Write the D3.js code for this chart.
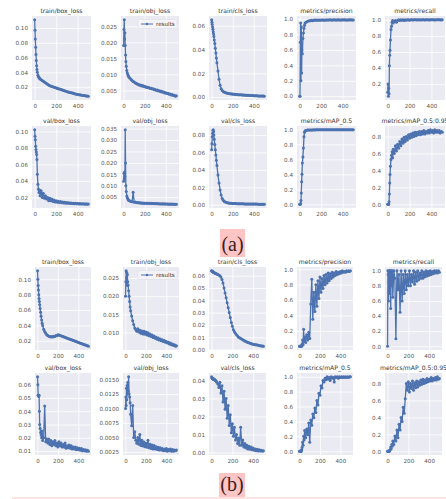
<!DOCTYPE html>
<html><head><meta charset="utf-8">
<script src="https://cdn.jsdelivr.net/npm/d3@7"></script>
<style>html,body{margin:0;padding:0;background:#fff;} svg{display:block;}</style>
</head><body>
<svg id="chart" width="446" height="499"></svg>
<script>
// ---------- DATA ----------
const epochs = [0,3,6,9,12,15,18,21,
  25,30,35,40,45,50,
  60,70,80,90,100,110,120,130,140,150,
  160,170,180,190,200,210,220,230,240,250,
  260,270,280,290,300,310,320,330,340,350,
  360,370,380,390,400,410,420,430,440,450,
  460,470,480,490,499];
const titles = ["train/box_loss","train/obj_loss","train/cls_loss","metrics/precision","metrics/recall",
  "val/box_loss","val/obj_loss","val/cls_loss","metrics/mAP_0.5","metrics/mAP_0.5:0.95"];
const xTickValues = [0, 200, 400];
const legendLabel = "results";
const figureLabels = ["(a)", "(b)"];

// (a)
const aTrainBox = [0.111,0.097,0.085,0.074,0.064,0.056,0.049,0.044,
  0.040,0.036,0.034,0.033,0.032,0.031,
  0.030,0.029,0.028,0.027,0.026,0.025,0.024,0.023,0.022,0.0215,
  0.021,0.0205,0.020,0.0195,0.019,0.0185,0.018,0.0175,0.017,0.0165,
  0.016,0.0155,0.015,0.0145,0.014,0.0136,0.0132,0.0128,0.0124,0.012,
  0.0116,0.0112,0.0108,0.0105,0.0102,0.0099,0.0096,0.0093,0.009,0.0088,
  0.0086,0.0084,0.0082,0.008,0.0078];
const aTrainObj = [0.019,0.024,0.027,0.021,0.023,0.019,0.016,0.014,
  0.0125,0.0112,0.0104,0.0099,0.0095,0.0092,
  0.0088,0.0084,0.0081,0.0078,0.0076,0.0073,0.0072,0.0069,0.0069,0.0066,
  0.0067,0.0064,0.0065,0.0062,0.0063,0.0060,0.0061,0.0058,0.0059,0.0056,
  0.0057,0.0054,0.0055,0.0052,0.0053,0.0050,0.0051,0.0048,0.0049,0.0046,
  0.0047,0.0044,0.0045,0.0042,0.0043,0.0040,0.0041,0.0038,0.0039,0.0036,
  0.0037,0.0034,0.0035,0.0032,0.0033];
const aTrainCls = [0.065,0.063,0.061,0.059,0.057,0.055,0.053,0.051,
  0.048,0.045,0.041,0.037,0.033,0.029,
  0.022,0.015,0.010,0.007,0.0055,0.0047,0.0042,0.0038,0.0035,0.0033,
  0.0031,0.0029,0.0028,0.0027,0.0026,0.0025,0.0024,0.0023,0.0022,0.0021,
  0.0020,0.0019,0.0019,0.0018,0.0017,0.0017,0.0016,0.0016,0.0015,0.0015,
  0.0014,0.0014,0.0013,0.0013,0.0012,0.0012,0.0011,0.0011,0.0010,0.0010,
  0.0010,0.0009,0.0009,0.0009,0.0008];
const aPrecision = [0.0,0.0,0.70,0.95,0.20,0.90,0.30,0.60,
  0.55,0.75,0.82,0.88,0.92,0.95,
  0.96,0.97,0.975,0.98,0.98,0.985,0.98,0.985,0.99,0.985,
  0.99,0.985,0.99,0.987,0.99,0.988,0.99,0.987,0.99,0.988,
  0.99,0.988,0.991,0.988,0.99,0.989,0.991,0.988,0.99,0.989,
  0.991,0.989,0.99,0.989,0.991,0.99,0.991,0.989,0.99,0.99,
  0.991,0.99,0.991,0.99,0.99];
const aRecall = [0.10,0.20,0.05,0.15,0.08,0.43,0.56,0.62,
  0.75,0.88,0.92,0.97,0.99,0.96,
  0.98,0.99,0.97,0.99,1.0,0.99,1.0,0.995,1.0,0.99,
  1.0,0.995,1.0,1.0,0.995,1.0,1.0,0.998,1.0,1.0,
  1.0,0.998,1.0,1.0,0.998,1.0,1.0,1.0,0.998,1.0,
  1.0,1.0,0.998,1.0,1.0,1.0,1.0,0.998,1.0,1.0,
  1.0,1.0,1.0,0.998,1.0];
const aValBox = [0.102,0.094,0.090,0.082,0.078,0.075,0.072,0.066,
  0.048,0.036,0.030,0.026,0.029,0.022,
  0.028,0.020,0.025,0.019,0.022,0.018,0.020,0.016,0.019,0.016,
  0.018,0.015,0.017,0.0145,0.016,0.014,0.0155,0.0138,0.015,0.0135,
  0.0145,0.0132,0.014,0.013,0.0138,0.0128,0.0135,0.0127,0.0133,0.0125,
  0.013,0.0124,0.0128,0.0122,0.0127,0.0121,0.0126,0.012,0.0124,0.0119,
  0.0123,0.0118,0.0122,0.0117,0.012];
const aValObj = [0.012,0.0155,0.013,0.016,0.014,0.0345,0.020,0.010,
  0.0075,0.0055,0.0048,0.0042,0.0038,0.0035,
  0.0033,0.0031,0.0030,0.0072,0.0028,0.0029,0.0027,0.0026,0.0027,0.0025,
  0.0026,0.0024,0.0025,0.0024,0.0024,0.0023,0.0024,0.0023,0.0023,0.0022,
  0.0023,0.0022,0.0022,0.0022,0.0021,0.0022,0.0021,0.0021,0.0021,0.0020,
  0.0021,0.0020,0.0021,0.0020,0.0020,0.0020,0.0020,0.0019,0.0020,0.0019,
  0.0020,0.0019,0.0019,0.0019,0.0019];
const aValCls = [0.063,0.070,0.078,0.082,0.085,0.086,0.084,0.080,
  0.075,0.069,0.063,0.057,0.051,0.045,
  0.034,0.025,0.017,0.011,0.007,0.005,0.0038,0.003,0.0025,0.0022,
  0.002,0.0018,0.0017,0.0016,0.0015,0.0014,0.0013,0.0013,0.0012,0.0012,
  0.0011,0.0011,0.001,0.001,0.001,0.0009,0.0009,0.0009,0.0009,0.0008,
  0.0008,0.0008,0.0008,0.0007,0.0007,0.0007,0.0007,0.0007,0.0006,0.0006,
  0.0006,0.0006,0.0006,0.0005,0.0005];
const aMap50 = [0.0,0.0,0.0,0.01,0.05,0.15,0.30,0.40,
  0.55,0.63,0.75,0.90,0.96,0.98,
  0.985,0.99,0.99,0.992,0.99,0.993,0.992,0.994,0.993,0.995,
  0.994,0.995,0.994,0.995,0.995,0.994,0.995,0.995,0.994,0.995,
  0.995,0.995,0.994,0.995,0.995,0.995,0.994,0.995,0.995,0.995,
  0.995,0.994,0.995,0.995,0.995,0.995,0.994,0.995,0.995,0.995,
  0.995,0.995,0.994,0.995,0.995];
const aMap5095 = [0.0,0.0,0.0,0.0,0.03,0.12,0.25,0.35,
  0.45,0.53,0.58,0.62,0.55,0.65,
  0.60,0.69,0.63,0.71,0.66,0.74,0.69,0.77,0.72,0.79,
  0.74,0.80,0.76,0.82,0.78,0.83,0.79,0.84,0.80,0.85,
  0.81,0.85,0.82,0.86,0.82,0.86,0.83,0.87,0.83,0.86,
  0.84,0.87,0.84,0.88,0.85,0.87,0.84,0.88,0.85,0.87,
  0.85,0.87,0.84,0.86,0.85];

// (b)
const bTrainBox = [0.111,0.100,0.092,0.086,0.080,0.075,0.071,0.067,
  0.062,0.057,0.052,0.047,0.043,0.040,
  0.035,0.032,0.030,0.028,0.027,0.026,0.0255,0.025,0.0255,0.025,
  0.026,0.0255,0.027,0.0265,0.028,0.0275,0.027,0.0265,0.026,0.0255,
  0.025,0.0245,0.024,0.0235,0.023,0.0225,0.022,0.0215,0.021,0.0205,
  0.020,0.0195,0.019,0.0185,0.018,0.0175,0.017,0.0165,0.016,0.0155,
  0.015,0.0145,0.014,0.0135,0.013];
const bTrainObj = [0.020,0.024,0.027,0.025,0.0265,0.023,0.026,0.024,
  0.023,0.0215,0.020,0.0185,0.017,0.016,
  0.0145,0.0132,0.0122,0.0112,0.0108,0.0103,0.011,0.0101,0.0106,0.0098,
  0.0104,0.0096,0.0103,0.0095,0.0101,0.0093,0.0099,0.0091,0.0096,0.0089,
  0.0093,0.0086,0.0090,0.0084,0.0087,0.0081,0.0085,0.0079,0.0082,0.0077,
  0.0080,0.0075,0.0078,0.0073,0.0075,0.0071,0.0073,0.0068,0.0071,0.0066,
  0.0068,0.0064,0.0066,0.0062,0.0063];
const bTrainCls = [0.064,0.0638,0.0636,0.0634,0.0632,0.063,0.0628,0.0626,
  0.0624,0.0622,0.062,0.0618,0.0616,0.0614,
  0.061,0.0605,0.060,0.059,0.057,0.054,0.050,0.046,0.042,0.038,
  0.034,0.030,0.026,0.022,0.019,0.016,0.0145,0.013,0.012,0.011,
  0.010,0.0095,0.009,0.0085,0.008,0.0075,0.007,0.0066,0.0062,0.0058,
  0.0055,0.0052,0.0049,0.0046,0.0044,0.0042,0.004,0.0038,0.0036,0.0034,
  0.0032,0.003,0.0029,0.0028,0.0027];
const bPrecision = [0.0,0.0,0.0,0.0,0.0,0.0,0.01,0.0,
  0.03,0.08,0.02,0.22,0.06,0.12,
  0.05,0.15,0.08,0.18,0.10,0.55,0.87,0.35,0.70,0.45,
  0.80,0.52,0.85,0.62,0.90,0.70,0.88,0.75,0.92,0.80,
  0.93,0.82,0.95,0.85,0.94,0.88,0.96,0.90,0.95,0.92,
  0.97,0.93,0.96,0.94,0.97,0.95,0.98,0.96,0.97,0.96,
  0.98,0.97,0.98,0.97,0.98];
const bRecall = [0.0,1.0,0.95,0.6,1.0,0.85,1.0,0.7,
  1.0,0.5,1.0,0.8,1.0,0.65,
  1.0,0.9,0.1,1.0,0.75,0.95,0.45,1.0,0.6,0.95,
  0.7,1.0,0.75,0.95,0.8,1.0,0.8,0.95,0.85,1.0,
  0.82,0.98,0.86,1.0,0.88,0.97,0.9,1.0,0.9,0.98,
  0.92,1.0,0.93,0.99,0.94,1.0,0.95,0.99,0.96,1.0,
  0.97,1.0,0.97,1.0,0.98];
const bValBox = [0.066,0.060,0.052,0.052,0.051,0.052,0.040,0.030,
  0.027,0.024,0.022,0.020,0.025,0.018,
  0.020,0.044,0.017,0.019,0.016,0.019,0.015,0.018,0.014,0.017,
  0.015,0.018,0.014,0.016,0.013,0.017,0.014,0.016,0.013,0.015,
  0.013,0.016,0.012,0.014,0.0125,0.0145,0.012,0.014,0.0115,0.013,
  0.0115,0.013,0.011,0.0125,0.011,0.012,0.0105,0.0118,0.0102,0.0112,
  0.0102,0.011,0.0098,0.0105,0.0098];
const bValObj = [0.0100,0.0120,0.0105,0.0135,0.0115,0.0140,0.0125,0.0145,
  0.0130,0.0155,0.0125,0.0120,0.0110,0.0090,
  0.0070,0.0105,0.0050,0.0060,0.0045,0.0040,0.0050,0.0038,0.0055,0.0036,
  0.0045,0.0035,0.0042,0.0034,0.0040,0.0033,0.0045,0.0032,0.0038,0.0031,
  0.0037,0.0030,0.0036,0.0030,0.0034,0.0029,0.0033,0.0028,0.0032,0.0028,
  0.0031,0.0027,0.0030,0.0027,0.0031,0.0026,0.0029,0.0027,0.0030,0.0026,
  0.0029,0.0026,0.0028,0.0027,0.0028];
const bValCls = [0.042,0.0415,0.041,0.0412,0.0408,0.041,0.0405,0.0407,
  0.0403,0.0405,0.040,0.0398,0.0395,0.039,
  0.038,0.036,0.039,0.033,0.037,0.028,0.034,0.024,0.030,0.019,
  0.026,0.015,0.021,0.011,0.016,0.009,0.014,0.007,0.010,0.005,
  0.008,0.004,0.014,0.004,0.007,0.003,0.005,0.0025,0.004,0.002,
  0.0035,0.0018,0.003,0.0015,0.0025,0.0012,0.002,0.001,0.0018,0.0009,
  0.0015,0.0008,0.0012,0.0007,0.001];
const bMap50 = [0.0,0.0,0.0,0.0,0.0,0.01,0.0,0.02,
  0.05,0.12,0.08,0.20,0.15,0.28,
  0.18,0.30,0.22,0.38,0.12,0.42,0.35,0.50,0.45,0.58,
  0.52,0.68,0.62,0.78,0.75,0.88,0.85,0.95,0.93,0.98,
  0.96,1.0,0.97,0.99,0.95,1.0,0.98,0.99,0.93,1.0,
  0.99,1.0,0.98,1.0,0.99,1.0,0.99,1.0,0.99,1.0,
  0.99,1.0,0.99,1.0,1.0];
const bMap5095 = [0.0,0.0,0.0,0.0,0.0,0.005,0.0,0.01,
  0.02,0.05,0.03,0.08,0.06,0.12,
  0.08,0.18,0.12,0.25,0.16,0.32,0.25,0.40,0.35,0.52,
  0.45,0.62,0.80,0.72,0.82,0.70,0.80,0.74,0.83,0.72,
  0.81,0.75,0.83,0.76,0.82,0.78,0.84,0.79,0.85,0.80,
  0.84,0.81,0.86,0.82,0.85,0.83,0.87,0.83,0.86,0.84,
  0.87,0.84,0.88,0.85,0.86];

// y tick labels
const ticksLoss2 = ["0.02","0.04","0.06","0.08","0.10"];
const ticksObj3 = ["0.005","0.010","0.015","0.020","0.025","0.030","0.035"];
const ticksCls2 = ["0.00","0.02","0.04","0.06","0.08"];
const ticksUnit = ["0.0","0.2","0.4","0.6","0.8","1.0"];
const ticksCls1 = ["0.00","0.01","0.02","0.03","0.04","0.05","0.06"];
const ticksBox1 = ["0.01","0.02","0.03","0.04","0.05","0.06"];
const ticksObj4 = ["0.0025","0.0050","0.0075","0.0100","0.0125","0.0150"];

// ---------- DRAW ----------
const svg = d3.select("#chart");
const blue = "#4C72B0";
const figs = [
  { label: figureLabels[0],
    series: [aTrainBox,aTrainObj,aTrainCls,aPrecision,aRecall,aValBox,aValObj,aValCls,aMap50,aMap5095],
    ticks: [ticksLoss2,ticksObj3,ticksCls2,ticksUnit,ticksUnit,ticksLoss2,ticksObj3,ticksCls2,ticksUnit,ticksUnit],
    rows: [[16,100],[126,208]],
    cols: [[32,91],[121,179],[209,267],[297,356],[385,445]],
    labelBox: [220,229,25,28] },
  { label: figureLabels[1],
    series: [bTrainBox,bTrainObj,bTrainCls,bPrecision,bRecall,bValBox,bValObj,bValCls,bMap50,bMap5095],
    ticks: [ticksLoss2,ticksObj3,ticksCls1,ticksUnit,ticksUnit,ticksBox1,ticksObj4,ticksCls1,ticksUnit,ticksUnit],
    rows: [[267,350],[373,455]],
    cols: [[35,91],[123,179],[209,266],[297,353],[385,442]],
    labelBox: [219,473,26,24] }
];

const eExt = d3.extent(epochs);
const ePad = (eExt[1]-eExt[0])*0.05;

function drawPanel(x0,x1,y0,y1,values,tickLabels,title,withLegend){
  const g = svg.append("g");
  const x = d3.scaleLinear().domain([eExt[0]-ePad, eExt[1]+ePad]).range([x0,x1]);
  const [mn,mx] = d3.extent(values);
  const pad = (mx-mn)*0.05;
  const y = d3.scaleLinear().domain([mn-pad, mx+pad]).range([y1,y0]);
  g.append("rect").attr("x",x0).attr("y",y0).attr("width",x1-x0).attr("height",y1-y0).attr("fill","#EAEAF2");
  const yt = tickLabels.filter(s => +s >= y.domain()[0]-1e-9 && +s <= y.domain()[1]+1e-9);
  const ya = g.append("g").attr("transform",`translate(${x0},0)`)
    .call(d3.axisLeft(y).tickValues(yt.map(Number)).tickFormat((d,i)=>yt[i]).tickSize(-(x1-x0)).tickPadding(4));
  const xa = g.append("g").attr("transform",`translate(0,${y1})`)
    .call(d3.axisBottom(x).tickValues(xTickValues).tickFormat(d3.format("d")).tickSize(-(y1-y0)).tickPadding(4));
  [ya,xa].forEach(a=>{
    a.select(".domain").remove();
    a.attr("font-family","DejaVu Sans").attr("font-size",5.6);
    a.selectAll("line").attr("stroke","#fff").attr("stroke-width",0.8);
    a.selectAll("text").attr("fill","#555");
  });
  const line = d3.line().x((d,i)=>x(epochs[i])).y(d=>y(d));
  g.append("path").datum(values).attr("d",line).attr("fill","none").attr("stroke",blue)
    .attr("stroke-width",1.3).attr("stroke-linejoin","round");
  g.append("g").selectAll("circle").data(values).join("circle")
    .attr("cx",(d,i)=>x(epochs[i])).attr("cy",d=>y(d)).attr("r",1.5).attr("fill",blue);
  g.append("text").attr("x",(x0+x1)/2).attr("y",y0-3).attr("text-anchor","middle")
    .attr("font-family","DejaVu Sans").attr("font-size",6.1).attr("fill","#333").text(title);
  if(withLegend){
    const lx = x1-41, ly = y0+3.5;
    g.append("rect").attr("x",lx).attr("y",ly).attr("width",39).attr("height",9)
      .attr("fill","#F3F3F8").attr("stroke","#d8d8e0").attr("stroke-width",0.5).attr("rx",1);
    g.append("line").attr("x1",lx+3).attr("x2",lx+15).attr("y1",ly+4.5).attr("y2",ly+4.5)
      .attr("stroke",blue).attr("stroke-width",1);
    g.append("circle").attr("cx",lx+9).attr("cy",ly+4.5).attr("r",1.2).attr("fill",blue);
    g.append("text").attr("x",lx+18).attr("y",ly+6.5).attr("font-family","DejaVu Sans")
      .attr("font-size",5.6).attr("fill","#333").text(legendLabel);
  }
}

figs.forEach(f=>{
  f.series.forEach((vals,k)=>{
    const r = Math.floor(k/5), c = k%5;
    drawPanel(f.cols[c][0],f.cols[c][1],f.rows[r][0],f.rows[r][1],vals,f.ticks[k],titles[k],k===1);
  });
  const [bx,by,bw,bh] = f.labelBox;
  svg.append("rect").attr("x",bx).attr("y",by).attr("width",bw).attr("height",bh).attr("fill","#FFC4C4");
  svg.append("text").attr("x",bx+bw/2).attr("y",by+bh-6).attr("text-anchor","middle")
    .attr("font-family","Liberation Serif").attr("font-size",20).attr("fill","#3b1f1f").text(f.label);
});
svg.append("line").attr("x1",12).attr("x2",446).attr("y1",498).attr("y2",498)
  .attr("stroke","#FFC4C4").attr("stroke-width",1);
</script>
</body></html>
